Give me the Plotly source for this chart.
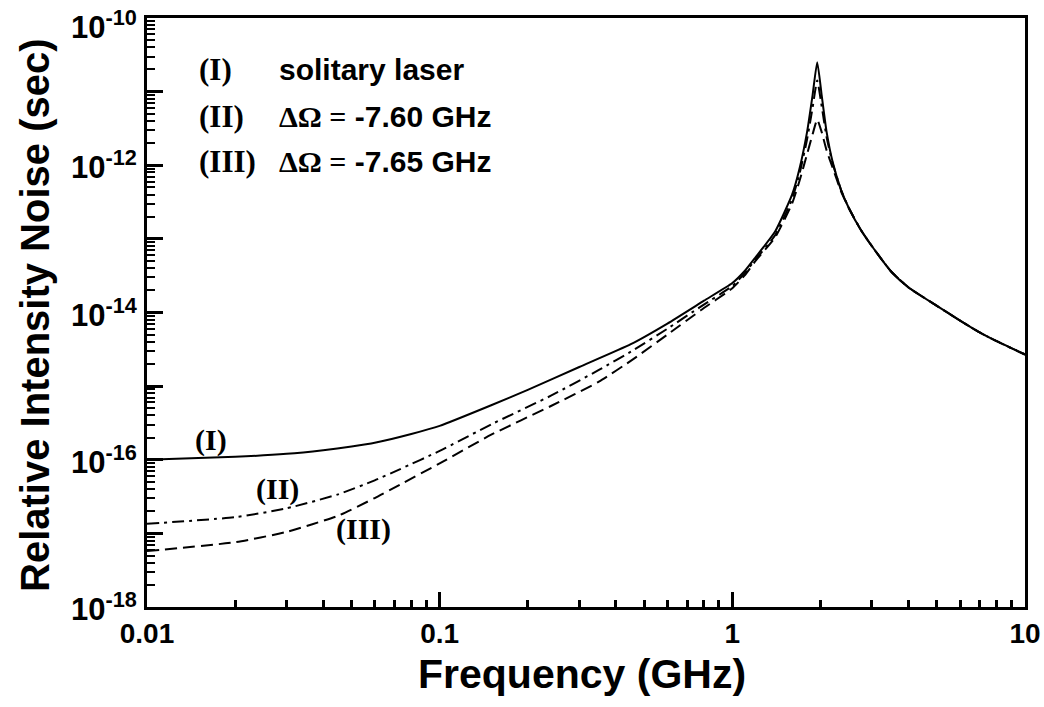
import plotly.graph_objects as go

# Frequency grid (GHz) and log10 of relative intensity noise (sec) for each case
freq_I = [0.01, 0.02, 0.03, 0.04, 0.05, 0.06, 0.08, 0.1, 0.15, 0.2, 0.3, 0.45, 0.6, 0.8,
          1.0, 1.1, 1.2, 1.4, 1.6, 1.7, 1.8, 1.88, 1.95, 2.02, 2.1, 2.2, 2.35, 2.5, 2.75,
          3.0, 3.5, 4.0, 5.0, 6.0, 7.0, 8.0, 10.0]
log_rin_I = [-16.00, -15.96, -15.92, -15.87, -15.82, -15.77, -15.65, -15.54, -15.26, -15.05,
             -14.74, -14.43, -14.15, -13.84, -13.60, -13.44, -13.25, -12.90, -12.40, -12.03,
             -11.55, -11.05, -10.60, -11.05, -11.55, -11.95, -12.33, -12.58, -12.88, -13.10,
             -13.45, -13.66, -13.91, -14.11, -14.27, -14.39, -14.57]

freq_II = [0.01, 0.02, 0.03, 0.045, 0.06, 0.073, 0.1, 0.15, 0.24, 0.35, 0.46, 0.6, 0.78,
           1.0, 1.1, 1.2, 1.4, 1.6, 1.7, 1.8, 1.88, 1.95, 2.02, 2.1, 2.2, 2.35, 2.5, 2.75,
           3.0, 3.5, 4.0, 5.0, 6.0, 7.0, 8.0, 10.0]
log_rin_II = [-16.87, -16.78, -16.66, -16.47, -16.28, -16.13, -15.88, -15.52, -15.13, -14.78,
              -14.51, -14.22, -13.92, -13.64, -13.47, -13.28, -12.95, -12.46, -12.10, -11.65,
              -11.22, -10.85, -11.20, -11.62, -11.97, -12.33, -12.58, -12.88, -13.10, -13.45,
              -13.66, -13.91, -14.11, -14.27, -14.39, -14.57]

freq_III = [0.01, 0.02, 0.03, 0.045, 0.06, 0.073, 0.1, 0.15, 0.24, 0.35, 0.46, 0.6, 0.78,
            1.0, 1.1, 1.2, 1.4, 1.6, 1.7, 1.8, 1.88, 1.95, 2.02, 2.1, 2.2, 2.35, 2.5, 2.75,
            3.0, 3.5, 4.0, 5.0, 6.0, 7.0, 8.0, 10.0]
log_rin_III = [-17.24, -17.12, -16.98, -16.76, -16.52, -16.34, -16.05, -15.66, -15.27, -14.94,
               -14.63, -14.30, -13.97, -13.67, -13.50, -13.30, -12.98, -12.52, -12.20, -11.85,
               -11.58, -11.38, -11.55, -11.80, -12.03, -12.35, -12.58, -12.88, -13.10, -13.45,
               -13.66, -13.91, -14.11, -14.27, -14.39, -14.57]

x_tick_vals = [0.01, 0.1, 1, 10]
x_tick_text = ["0.01", "0.1", "1", "10"]
y_decades = list(range(-18, -9))
y_label_decades = [-18, -16, -14, -12, -10]

legend_rows = [
    ("(I)", "solitary laser", None),
    ("(II)", "\u0394\u03a9 =", "-7.60 GHz"),
    ("(III)", "\u0394\u03a9 =", "-7.65 GHz"),
]

SANS = "Liberation Sans, Arial, Helvetica, sans-serif"
SERIF = "Liberation Serif, Times New Roman, serif"

W, H = 1044, 707
L, R, T, B = 147, 19, 18, 100
PW, PH = W - L - R, H - T - B


def px(xp):
    return (xp - L) / PW


def py(yp):
    return (H - B - yp) / PH


fig = go.Figure()
line_style = dict(color="black", width=2, shape="spline", smoothing=0.5)
fig.add_trace(go.Scatter(x=freq_I, y=[10 ** v for v in log_rin_I], mode="lines",
                         line=dict(**line_style), name="(I)"))
fig.add_trace(go.Scatter(x=freq_II, y=[10 ** v for v in log_rin_II], mode="lines",
                         line=dict(**line_style, dash="12px,5px,3px,5px"), name="(II)"))
fig.add_trace(go.Scatter(x=freq_III, y=[10 ** v for v in log_rin_III], mode="lines",
                         line=dict(**line_style, dash="12px,6px"), name="(III)"))

x_minor = [k * 10 ** e for e in (-2, -1, 0) for k in range(2, 10)]
y_minor = [k * 10.0 ** e for e in range(-18, -10) for k in range(2, 10)]

fig.update_xaxes(
    type="log", range=[-2, 1],
    tickvals=x_tick_vals, ticktext=[f"<b>{t}</b>" for t in x_tick_text],
    ticks="inside", ticklen=15, tickwidth=2.5, tickcolor="black",
    minor=dict(tickvals=x_minor, ticks="inside", ticklen=7, tickwidth=2.5, tickcolor="black"),
    showline=True, linecolor="black", linewidth=2.5, mirror=True,
    showgrid=False, zeroline=False, ticklabeloverflow="allow",
    tickfont=dict(family=SANS, size=28, color="black"),
)
fig.update_yaxes(
    type="log", range=[-18, -10],
    tickvals=[10.0 ** d for d in y_decades], showticklabels=False,
    ticks="inside", ticklen=16, tickwidth=2.5, tickcolor="black",
    minor=dict(tickvals=y_minor, ticks="inside", ticklen=8, tickwidth=2, tickcolor="black"),
    showline=True, linecolor="black", linewidth=2.5, mirror=True,
    showgrid=False, zeroline=False,
)

annotations = []

# decade labels on the vertical axis (every second decade); the top one sits
# slightly lower so its exponent stays inside the page
for d in y_label_decades:
    annotations.append(dict(x=px(139), y=d, xref="paper", yref="y",
                            text=f"<b>10<sup>{d}</sup></b>", showarrow=False,
                            xanchor="right", yanchor="middle",
                            yshift=-7 if d == -10 else 0,
                            font=dict(family=SANS, size=31, color="black")))

row_y = [70, 116, 162]
for (tag, txt, val), yp in zip(legend_rows, row_y):
    annotations.append(dict(x=px(197), y=py(yp), xref="paper", yref="paper",
                            text=f"<b>{tag}</b>", showarrow=False, xanchor="left",
                            yanchor="middle", font=dict(family=SERIF, size=31, color="black")))
    if val is None:
        label = f"<b>{txt}</b>"
    else:
        label = (f"<span style='font-family:{SERIF}'><b>{txt}</b></span>"
                 f"<b> {val}</b>")
    annotations.append(dict(x=px(277), y=py(yp), xref="paper", yref="paper",
                            text=label, showarrow=False, xanchor="left",
                            yanchor="middle", font=dict(family=SANS, size=30, color="black")))

# curve tags placed next to the low-frequency branches
curve_tags = [("(I)", 211, 440), ("(II)", 277, 489), ("(III)", 363, 529)]
for tag, xp, yp in curve_tags:
    annotations.append(dict(x=px(xp), y=py(yp), xref="paper", yref="paper",
                            text=f"<b>{tag}</b>", showarrow=False, xanchor="center",
                            yanchor="middle", font=dict(family=SERIF, size=30, color="black")))

# axis titles
annotations.append(dict(x=px(582), y=py(674), xref="paper", yref="paper",
                        text="<b>Frequency (GHz)</b>", showarrow=False,
                        xanchor="center", yanchor="middle",
                        font=dict(family=SANS, size=41, color="black")))
annotations.append(dict(x=px(35), y=py(315), xref="paper", yref="paper",
                        text="<b>Relative Intensity Noise (sec)</b>", showarrow=False,
                        textangle=-90, xanchor="center", yanchor="middle",
                        font=dict(family=SANS, size=40, color="black")))

fig.update_layout(
    width=W, height=H,
    margin=dict(l=L, r=R, t=T, b=B, autoexpand=False),
    paper_bgcolor="white", plot_bgcolor="white",
    showlegend=False,
    annotations=annotations,
)

fig.write_html("out.html")
